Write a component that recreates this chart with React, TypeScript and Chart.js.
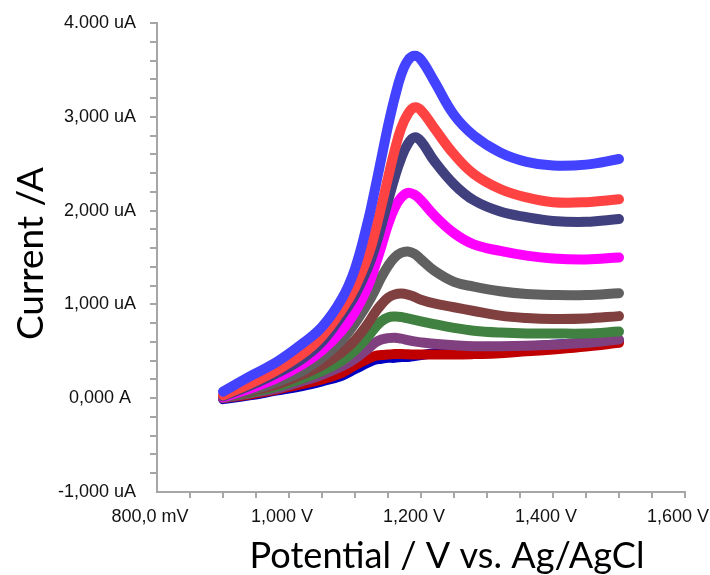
import React, { useEffect, useRef } from "react";
import { Chart, registerables } from "chart.js";

Chart.register(...registerables);

// Potential grid (V)
const potentials = [0.9, 0.94, 0.98, 1.02, 1.05, 1.08, 1.1, 1.12, 1.13, 1.14, 1.15, 1.16, 1.17, 1.18, 1.19, 1.2, 1.22, 1.25, 1.28, 1.32, 1.36, 1.4, 1.45, 1.5];

// Currents (uA), one array per curve (top to bottom)
const blueCurrent = [0.07, 0.23, 0.38, 0.58, 0.76, 1.06, 1.38, 1.9, 2.22, 2.56, 2.9, 3.2, 3.45, 3.6, 3.65, 3.61, 3.38, 3.02, 2.8, 2.62, 2.52, 2.48, 2.49, 2.55];
const redCurrent = [0.03, 0.15, 0.29, 0.47, 0.66, 0.94, 1.18, 1.52, 1.76, 2.05, 2.35, 2.64, 2.88, 3.03, 3.1, 3.07, 2.88, 2.6, 2.39, 2.23, 2.14, 2.09, 2.09, 2.12];
const navyCurrent = [0.02, 0.13, 0.26, 0.42, 0.6, 0.88, 1.1, 1.4, 1.6, 1.84, 2.1, 2.35, 2.56, 2.71, 2.78, 2.74, 2.53, 2.28, 2.11, 1.99, 1.93, 1.89, 1.88, 1.91];
const magentaCurrent = [0.01, 0.1, 0.21, 0.36, 0.51, 0.72, 0.92, 1.2, 1.4, 1.62, 1.85, 2.03, 2.14, 2.19, 2.17, 2.11, 1.95, 1.76, 1.64, 1.57, 1.52, 1.49, 1.48, 1.5];
const grayCurrent = [0.01, 0.08, 0.17, 0.29, 0.43, 0.62, 0.8, 1.02, 1.15, 1.29, 1.41, 1.5, 1.55, 1.565, 1.54, 1.48, 1.36, 1.24, 1.19, 1.14, 1.11, 1.1, 1.1, 1.12];
const brownCurrent = [0.01, 0.07, 0.14, 0.25, 0.35, 0.49, 0.62, 0.8, 0.91, 1.0, 1.07, 1.105, 1.115, 1.105, 1.08, 1.05, 1.01, 0.97, 0.93, 0.88, 0.855, 0.845, 0.85, 0.875];
const greenCurrent = [0.01, 0.06, 0.12, 0.21, 0.29, 0.4, 0.51, 0.66, 0.75, 0.82, 0.86, 0.87, 0.865, 0.85, 0.835, 0.82, 0.79, 0.75, 0.72, 0.7, 0.69, 0.69, 0.69, 0.71];
const purpleCurrent = [0.0, 0.05, 0.1, 0.18, 0.25, 0.34, 0.42, 0.53, 0.59, 0.625, 0.64, 0.645, 0.635, 0.62, 0.605, 0.595, 0.58, 0.565, 0.555, 0.555, 0.56, 0.57, 0.59, 0.625];
const darkRedCurrent = [0.0, 0.04, 0.09, 0.15, 0.2, 0.27, 0.35, 0.42, 0.45, 0.46, 0.465, 0.47, 0.47, 0.468, 0.466, 0.465, 0.465, 0.465, 0.47, 0.48, 0.5, 0.52, 0.55, 0.59];
const darkBlueCurrent = [-0.01, 0.03, 0.08, 0.13, 0.18, 0.24, 0.31, 0.38, 0.41, 0.42, 0.43, 0.43, 0.44, 0.44, 0.45, 0.46, 0.48, 0.5, 0.51, 0.53, 0.55, 0.57, 0.59, 0.61];

const seriesValues = [blueCurrent, redCurrent, navyCurrent, magentaCurrent, grayCurrent, brownCurrent, greenCurrent, purpleCurrent, darkRedCurrent, darkBlueCurrent];
const seriesNames = ["Blue", "Red", "Navy", "Magenta", "Gray", "Brown", "Green", "Purple", "Dark red", "Dark blue"];
const seriesColors = ["#4242ff", "#ff4242", "#40407f", "#ff00ff", "#606060", "#804040", "#408040", "#804080", "#c00000", "#0000c0"];

// Axis ticks and labels
const xTickValues = [0.8, 1.0, 1.2, 1.4, 1.6];
const xTickLabels = ["800,0 mV", "1,000 V", "1,200 V", "1,400 V", "1,600 V"];
const yTickValues = [-1, 0, 1, 2, 3, 4];
const yTickLabels = ["-1,000 uA", "0,000 A ", "1,000 uA", "2,000 uA", "3,000 uA", "4.000 uA"];
const xMinorStep = 0.05;
const yMinorStep = 0.2;
const xTitle = "Potential / V vs. Ag/AgCl";
const yTitle = "Current /A";

const AXIS_GRAY = "#a6a6a6";
const TICK_FONT = { family: '"Liberation Sans", Arial, sans-serif', size: 18 };
const TITLE_FAMILY = 'Lato, "Open Sans", sans-serif';

function labelFor(v: number, values: number[], labels: string[]) {
  for (let i = 0; i < values.length; i++) {
    if (Math.abs(values[i] - v) < 1e-6) return labels[i];
  }
  return "";
}

const titlePlugin = {
  id: "axisTitles",
  afterDraw(chart: any) {
    const { ctx, chartArea } = chart;
    ctx.save();
    ctx.fillStyle = "#000";
    const fitSize = (text: string, target: number) => {
      ctx.font = `100px ${TITLE_FAMILY}`;
      const w = ctx.measureText(text).width;
      return (100 * target) / w;
    };
    const xs = fitSize(xTitle, 395);
    ctx.font = `${xs}px ${TITLE_FAMILY}`;
    ctx.textAlign = "center";
    ctx.textBaseline = "alphabetic";
    ctx.fillText(xTitle, (chartArea.left + chartArea.right) / 2 + 26, 568);
    const ys = fitSize(yTitle, 173);
    ctx.font = `${ys}px ${TITLE_FAMILY}`;
    ctx.translate(43, (chartArea.top + chartArea.bottom) / 2 - 4);
    ctx.rotate(-Math.PI / 2);
    ctx.fillText(yTitle, 0, 0);
    ctx.restore();
  },
};

export default function App() {
  const canvasRef = useRef<HTMLCanvasElement | null>(null);

  useEffect(() => {
    const canvas = canvasRef.current;
    if (!canvas) return;
    const datasets = seriesValues.map((vals, s) => ({
      label: seriesNames[s],
      data: vals.map((v, i) => ({ x: potentials[i], y: v })),
      borderColor: seriesColors[s],
      backgroundColor: seriesColors[s],
      borderWidth: 10,
      pointRadius: 0,
      fill: false,
      tension: 0.4,
      borderCapStyle: "round" as const,
      borderJoinStyle: "round" as const,
    }));

    const chart = new Chart(canvas, {
      type: "line",
      data: { datasets },
      plugins: [titlePlugin],
      options: {
        responsive: false,
        animation: false,
        devicePixelRatio: 1,
        layout: { padding: { left: 0, top: 23, right: 25, bottom: 0 } },
        plugins: { legend: { display: false }, tooltip: { enabled: false }, title: { display: false } },
        scales: {
          x: {
            type: "linear",
            min: 0.8,
            max: 1.6,
            afterFit(scale: any) {
              scale.height = 83;
              scale.paddingLeft = 0;
              scale.paddingRight = 0;
            },
            afterBuildTicks(scale: any) {
              const ticks = [];
              const n = Math.round((1.6 - 0.8) / xMinorStep);
              for (let i = 0; i <= n; i++) ticks.push({ value: Math.round((0.8 + i * xMinorStep) * 1000) / 1000 });
              scale.ticks = ticks;
            },
            ticks: {
              autoSkip: false,
              maxRotation: 0,
              minRotation: 0,
              padding: 8,
              labelOffset: -7,
              color: "#111",
              font: TICK_FONT,
              callback: (v: any) => labelFor(Number(v), xTickValues, xTickLabels),
            },
            grid: {
              drawOnChartArea: false,
              drawTicks: true,
              tickLength: 6,
              lineWidth: 2,
              color: (c: any) => (c.index === 0 ? "rgba(0,0,0,0)" : AXIS_GRAY),
            },
            border: { display: true, color: AXIS_GRAY, width: 2 },
            title: { display: false },
          },
          y: {
            type: "linear",
            min: -1,
            max: 4,
            afterFit(scale: any) {
              scale.width = 157;
              scale.paddingTop = 0;
              scale.paddingBottom = 0;
            },
            afterBuildTicks(scale: any) {
              const ticks = [];
              const n = Math.round((4 - -1) / yMinorStep);
              for (let i = 0; i <= n; i++) ticks.push({ value: Math.round((-1 + i * yMinorStep) * 1000) / 1000 });
              scale.ticks = ticks;
            },
            ticks: {
              autoSkip: false,
              padding: 14,
              color: "#111",
              font: TICK_FONT,
              callback: (v: any) => labelFor(Number(v), yTickValues, yTickLabels),
            },
            grid: {
              drawOnChartArea: false,
              drawTicks: true,
              tickLength: 7,
              lineWidth: 2,
              color: (c: any) => (c.index === 0 ? "rgba(0,0,0,0)" : AXIS_GRAY),
            },
            border: { display: true, color: AXIS_GRAY, width: 2 },
            title: { display: false },
          },
        },
      },
    });
    return () => chart.destroy();
  }, []);

  return (
    <div style={{ position: "fixed", left: 0, top: 0, width: 710, height: 575, background: "#fff" }}>
      <canvas ref={canvasRef} width={710} height={575} style={{ width: 710, height: 575, display: "block" }} />
    </div>
  );
}
